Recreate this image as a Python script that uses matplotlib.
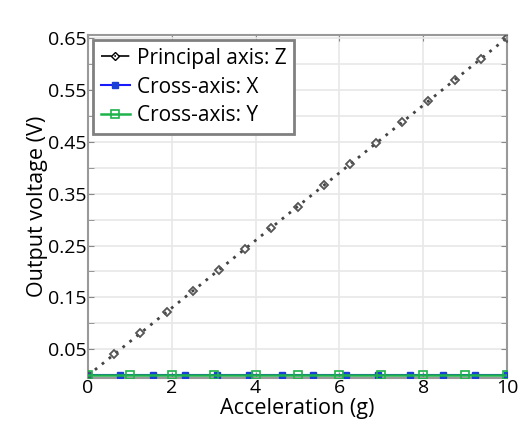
import matplotlib
matplotlib.use("Agg")
import matplotlib.pyplot as plt
import numpy as np
from matplotlib.ticker import MultipleLocator, FixedLocator

plt.rcParams['font.family'] = ['Open Sans', 'DejaVu Sans']

# Data
z_x = [0, 0.625, 1.25, 1.875, 2.5, 3.125, 3.75, 4.375, 5.0, 5.625, 6.25, 6.875, 7.5, 8.125, 8.75, 9.375, 10]
z_y = [0, 0.041, 0.081, 0.122, 0.163, 0.203, 0.244, 0.284, 0.325, 0.366, 0.406, 0.447, 0.488, 0.528, 0.569, 0.609, 0.65]
fit_x = [0, 10]
fit_y = [0, 0.65]
x_x = [0, 0.77, 1.54, 2.31, 3.08, 3.85, 4.62, 5.38, 6.15, 6.92, 7.69, 8.46, 9.23, 10]
x_y = [0.0] * len(x_x)
y_x = [0, 1, 2, 3, 4, 5, 6, 7, 8, 9, 10]
y_y = [0.0] * len(y_x)

xticks = [0, 2, 4, 6, 8, 10]
yticks = [0.05, 0.15, 0.25, 0.35, 0.45, 0.55, 0.65]
yticks_minor = [0.1, 0.2, 0.3, 0.4, 0.5, 0.6]

fig = plt.figure(figsize=(5.19, 4.23), dpi=100)
ax = fig.add_axes([0.1696, 0.1064, 0.977 - 0.1696, 0.917 - 0.1064])

ax.grid(True, which='both', color='#e8e8e8', linewidth=1.2, zorder=0)
ax.set_axisbelow(True)

ax.plot(fit_x, fit_y, linestyle=(0, (1, 2.2)), color='#444444', linewidth=2, zorder=3)
ax.plot(z_x, z_y, linestyle='none', marker='D', markersize=4, markerfacecolor='none',
        markeredgecolor='#555555', markeredgewidth=1.3, zorder=4)
# legend proxies
hz, = ax.plot([], [], linestyle='-.', color='black', marker='D', markersize=4.5,
              markerfacecolor='none', markeredgecolor='black', linewidth=1.2, label='Principal axis: Z')
hx, = ax.plot(x_x, x_y, color='#1a1aff', linewidth=1.5, marker='s', markersize=4.5,
              markerfacecolor='#1a3fd6', markeredgecolor='#1a3fd6', zorder=3, label='Cross-axis: X')
hy, = ax.plot(y_x, y_y, color='#1db34a', linewidth=1.8, marker='s', markersize=5.5,
              markerfacecolor='none', markeredgecolor='#1db34a', markeredgewidth=1.2, zorder=4,
              label='Cross-axis: Y')

ax.set_xlim(0, 10)
ax.set_ylim(-0.005, 0.655)
ax.xaxis.set_major_locator(FixedLocator(xticks))
ax.yaxis.set_major_locator(FixedLocator(yticks))
ax.yaxis.set_minor_locator(FixedLocator(yticks_minor))
ax.tick_params(which='both', direction='in', top=True, right=True, color='#888888',
               labelsize=14, length=4, pad=1)
ax.tick_params(which='minor', length=4)
ax.set_yticklabels(['0.05', '0.15', '0.25', '0.35', '0.45', '0.55', '0.65'])

for s in ax.spines.values():
    s.set_color('#999999')
    s.set_linewidth(1.5)

ax.set_xlabel('Acceleration (g)', fontsize=15.5, labelpad=0.5)
ax.set_ylabel('Output voltage (V)', fontsize=15.5, labelpad=0)

leg = ax.legend(handles=[hz, hx, hy], loc='upper left', fontsize=15, frameon=True,
                fancybox=False, edgecolor='#808080', handlelength=1.4, handletextpad=0.35,
                borderpad=0.35, labelspacing=0.38, borderaxespad=0.25, framealpha=1)
leg.get_frame().set_linewidth(2)

fig.savefig('out.png', dpi=100)
